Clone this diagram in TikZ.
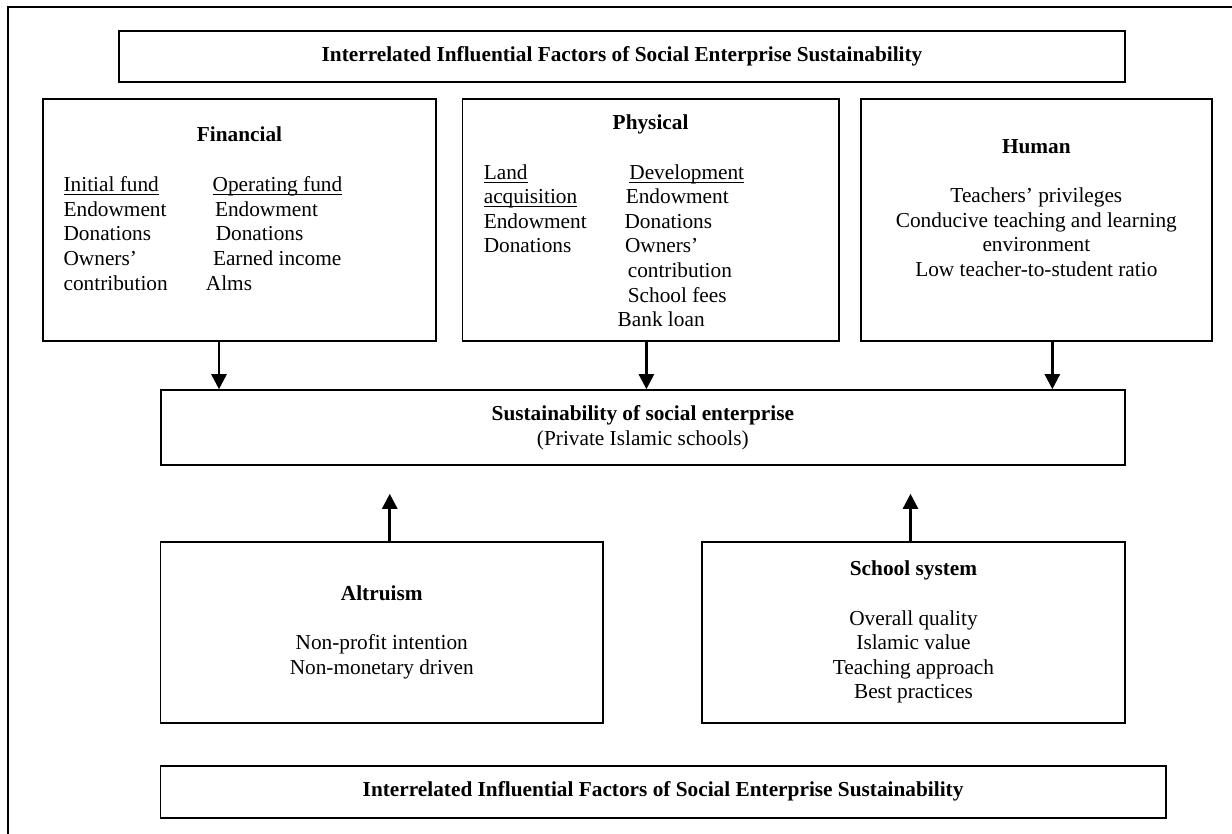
\documentclass[tikz,border=0pt]{standalone}
\usepackage{fontspec}
\setmainfont{Liberation Serif}
\usetikzlibrary{arrows.meta}
\newcommand\uln[1]{\underline{\smash{#1}}}

\begin{document}
\begin{tikzpicture}[x=0.5pt, y=-0.5pt,
		box/.style={draw, line width=0.8pt, inner sep=0pt, align=center, font=\fontsize{10.65}{12.3}\selectfont},
		txt/.style={inner sep=0pt, font=\fontsize{10.65}{12.3}\selectfont},
		arr/.style={line width=1.3pt, -{Triangle[length=7.5pt, width=7.5pt]}}]
			%%%%% START %%%%%
			
			\useasboundingbox (0,0) rectangle (1232,834);
			\draw[line width=1.1pt] (8,850) -- (8,7) -- (1250,7);
			
			\node[box, minimum width=503pt, minimum height=25.5pt] (ttl) at (622,56.5) {\textbf{Interrelated Influential Factors of Social Enterprise Sustainability}};
			
			\node[box, minimum width=196.5pt, minimum height=121pt] (fin) at (239.5,220) {};
			\node[box, minimum width=188.1pt, minimum height=121pt] (phy) at (650.6,220) {};
			\node[box, minimum width=175.35pt, minimum height=121pt] (hum) at (1036.35,220) {};
			
			% financial
			\node[txt, anchor=base] (finhd) at (239.5,142) {\textbf{Financial}};
			\node[txt, anchor=north west, align=left] (finl) at (63.2,174.1) {\strut\uln{Initial fund}\\Endowment\\Donations\\Owners’\\contribution};
			\node[txt, anchor=north west, align=left] (finr) at (205.5,174.1) {\strut\hspace*{3.4pt}\uln{Operating fund}\\\hspace*{4.55pt}Endowment\\\hspace*{4.95pt}Donations\\\hspace*{3.55pt}Earned income\\Alms};
			
			% physical
			\node[txt, anchor=base] (phyhd) at (650.6,130) {\textbf{Physical}};
			\node[txt, anchor=north west, align=left] (phyl) at (483.4,161.5) {\strut\uln{Land}\\\uln{acquisition}\\Endowment\\Donations};
			\node[txt, anchor=north west, align=left] (phyr) at (617.3,161.5) {\strut\hspace*{5.85pt}\uln{Development}\\\hspace*{4.05pt}Endowment\\\hspace*{3.45pt}Donations\\\hspace*{3.65pt}Owners’\\\hspace*{5.05pt}contribution\\\hspace*{5.05pt}School fees\\Bank loan};
			
			% human
			\node[txt, align=center] (humtxt) at (1036.35,208) {\textbf{Human}\\[12.3pt]Teachers’ privileges\\Conducive teaching and learning\\environment\\Low teacher-to-student ratio};
			
			\node[box, minimum width=482.15pt, minimum height=37.5pt] (sus) at (642.85,427.5) {\textbf{Sustainability of social enterprise}\\(Private Islamic schools)};
			
			\node[box, minimum width=221.25pt, minimum height=90.5pt] (alt) at (381.75,632.2) {\textbf{Altruism}\\[12.3pt]Non-profit intention\\Non-monetary driven};
			\node[box, minimum width=211.5pt, minimum height=90.5pt] (sch) at (913.5,632.2) {\textbf{School system}\\[12.3pt]Overall quality\\Islamic value\\Teaching approach\\Best practices};
			
			\node[box, minimum width=502.6pt, minimum height=26pt] (bot) at (663.1,791.7) {\textbf{Interrelated Influential Factors of Social Enterprise Sustainability}};
			
			% arrows
			\draw[arr] ([xshift=-10.25pt]fin.south) -- ([xshift=-10.25pt]fin.south |- sus.north);
			\draw[arr] ([xshift=-2.1pt]phy.south) -- ([xshift=-2.1pt]phy.south |- sus.north);
			\draw[arr] ([xshift=8pt]hum.south) -- ([xshift=8pt]hum.south |- sus.north);
			\draw[arr, shorten >=14pt] ([xshift=4pt]alt.north) -- ([xshift=4pt]alt.north |- sus.south);
			\draw[arr, shorten >=14pt] ([xshift=-1.5pt]sch.north) -- ([xshift=-1.5pt]sch.north |- sus.south);
			
			%%%%% END %%%%%
		\end{tikzpicture}
\end{document}
